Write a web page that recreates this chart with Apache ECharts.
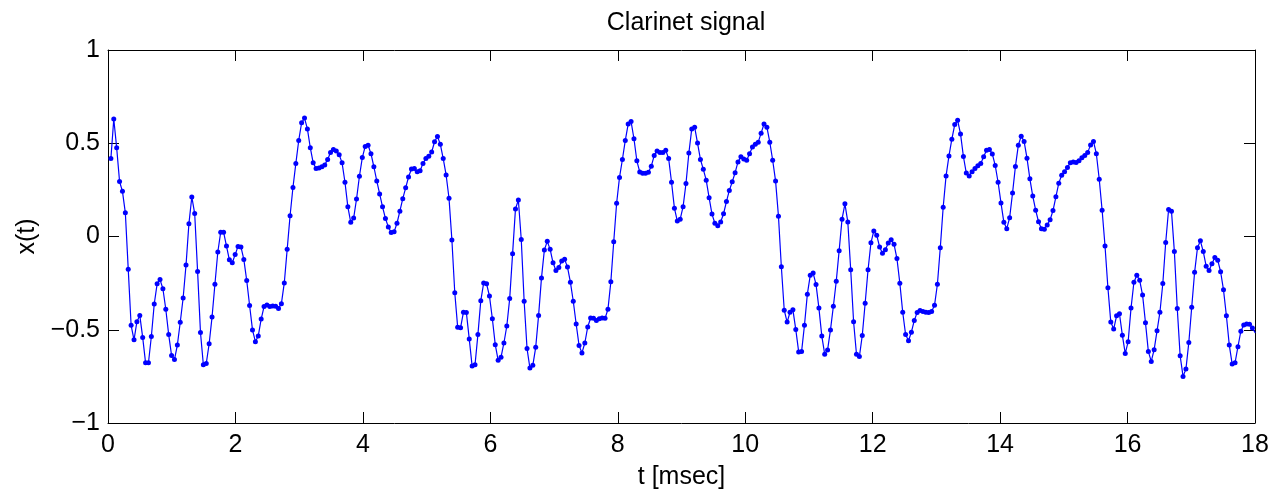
<!DOCTYPE html>
<html>
<head>
<meta charset="utf-8">
<script src="https://cdn.jsdelivr.net/npm/echarts@6/dist/echarts.min.js"></script>
<style>html,body{margin:0;padding:0;background:#fff}#c{width:1275px;height:495px}</style>
</head>
<body>
<div id="c"></div>
<script>
// sampling rate in kHz (samples per msec); sample k lies at t = (k+1)/SAMPLE_RATE_KHZ
const SAMPLE_RATE_KHZ = 22.05;
const xTicks = [0, 2, 4, 6, 8, 10, 12, 14, 16, 18];
const yTicks = [-1, -0.5, 0, 0.5, 1];
const signal = [
 0.418, 0.630, 0.476, 0.295, 0.242, 0.127, -0.175, -0.476, -0.554, -0.457,
 -0.423, -0.541, -0.677, -0.677, -0.536, -0.362, -0.254, -0.231, -0.280, -0.390,
 -0.526, -0.638, -0.660, -0.582, -0.460, -0.330, -0.153, 0.069, 0.212, 0.123,
 -0.187, -0.515, -0.688, -0.681, -0.575, -0.432, -0.256, -0.083, 0.023, 0.023,
 -0.051, -0.125, -0.141, -0.097,
 -0.053, -0.056, -0.123, -0.236, -0.370, -0.501, -0.564, -0.533, -0.443, -0.376,
 -0.367, -0.376, -0.372, -0.374, -0.386, -0.360, -0.249, -0.069, 0.111, 0.263,
 0.392, 0.515, 0.610, 0.635, 0.577, 0.476, 0.395, 0.365, 0.367, 0.374,
 0.384, 0.413, 0.450, 0.467, 0.459, 0.439, 0.395, 0.291, 0.159, 0.076,
 0.099, 0.201, 0.323, 0.423,
 0.483, 0.489, 0.444, 0.374, 0.298, 0.228, 0.159, 0.097, 0.051, 0.021,
 0.025, 0.071, 0.136, 0.203, 0.261, 0.319, 0.362, 0.365, 0.347, 0.353,
 0.392, 0.418, 0.430, 0.453, 0.508, 0.536, 0.494, 0.418, 0.330, 0.205,
 -0.019, -0.302, -0.487, -0.489, -0.406, -0.407, -0.549, -0.695, -0.688, -0.526,
 -0.344, -0.249, -0.254, -0.319,
 -0.441, -0.580, -0.663, -0.647, -0.571, -0.480, -0.333, -0.092, 0.148, 0.196,
 -0.016, -0.347, -0.601, -0.705, -0.691, -0.594, -0.423, -0.222, -0.072, -0.026,
 -0.069, -0.141, -0.182, -0.166, -0.132, -0.122, -0.164, -0.245, -0.347, -0.469,
 -0.584, -0.624, -0.571, -0.485, -0.437, -0.439, -0.450, -0.441, -0.437, -0.439,
 -0.390, -0.243, -0.028, 0.178, 0.317,
 0.413, 0.515, 0.603, 0.616, 0.524, 0.406, 0.346, 0.339, 0.339, 0.344,
 0.377, 0.434, 0.459, 0.450, 0.450, 0.462, 0.418, 0.291, 0.152, 0.083,
 0.093, 0.160, 0.284, 0.448, 0.577, 0.586, 0.501, 0.413, 0.360, 0.302,
 0.208, 0.120, 0.071, 0.058, 0.078, 0.122, 0.187, 0.247, 0.293, 0.342,
 0.400, 0.427, 0.416, 0.409,
 0.444, 0.480, 0.494, 0.506, 0.554, 0.603, 0.586, 0.506, 0.409, 0.298,
 0.109, -0.162, -0.395, -0.459, -0.406, -0.393, -0.499, -0.619, -0.617, -0.476,
 -0.309, -0.208, -0.196, -0.257, -0.384, -0.534, -0.631, -0.608, -0.501, -0.374,
 -0.240, -0.076, 0.093, 0.175, 0.078, -0.178, -0.457, -0.631, -0.644, -0.531,
 -0.358, -0.178, -0.034, 0.030,
 0.007, -0.056, -0.090, -0.071, -0.035, -0.018, -0.042, -0.118, -0.250, -0.406,
 -0.526, -0.559, -0.513, -0.450, -0.407, -0.397, -0.402, -0.406, -0.407, -0.402,
 -0.369, -0.256, -0.060, 0.157, 0.325, 0.432, 0.522, 0.600, 0.623, 0.550,
 0.429, 0.340, 0.325, 0.347, 0.365, 0.379, 0.392, 0.427, 0.462, 0.467,
 0.443, 0.381, 0.291, 0.180,
 0.076, 0.042, 0.101, 0.233, 0.376, 0.489, 0.538, 0.510, 0.420, 0.309,
 0.217, 0.141, 0.079, 0.041, 0.039, 0.062, 0.090, 0.139, 0.213, 0.286,
 0.328, 0.347, 0.370, 0.395, 0.399, 0.397, 0.406, 0.422, 0.434, 0.451,
 0.490, 0.510, 0.444, 0.307, 0.141, -0.051, -0.275, -0.459, -0.496, -0.425,
 -0.414, -0.529, -0.628, -0.564, -0.384,
 -0.245, -0.208, -0.235, -0.314, -0.462, -0.617, -0.670, -0.607, -0.506, -0.406,
 -0.252, -0.032, 0.145, 0.136, -0.081, -0.386, -0.640, -0.750, -0.711, -0.568,
 -0.379, -0.192, -0.060, -0.023, -0.081, -0.159, -0.182, -0.146, -0.113, -0.127,
 -0.189, -0.286, -0.425, -0.582, -0.684, -0.677, -0.591, -0.508, -0.474, -0.469,
 -0.471, -0.490, -0.517
];

const points = signal.map((v, k) => [(k + 1) / SAMPLE_RATE_KHZ, v]);
const FONT = 'Liberation Sans, Arial, Helvetica, sans-serif';
const FS = 25;
const fmt = v => String(v).replace('-', '\u2212');
const xInterval = xTicks[1] - xTicks[0];
const yInterval = yTicks[1] - yTicks[0];

const baseAxis = {
  axisLine: { show: true, onZero: false, lineStyle: { color: '#000', width: 1 } },
  axisTick: { show: true, inside: true, length: 11, lineStyle: { color: '#000', width: 1 } },
  splitLine: { show: false }
};

const chart = echarts.init(document.getElementById('c'), null, { renderer: 'canvas' });
chart.setOption({
  animation: false,
  backgroundColor: '#fff',
  title: {
    text: 'Clarinet signal',
    left: 681, top: 6, textAlign: 'center',
    textStyle: { fontFamily: FONT, fontSize: FS, fontWeight: 'normal', color: '#000' }
  },
  grid: { left: 108, right: 20, top: 50, bottom: 67, containLabel: false },
  xAxis: [
    Object.assign({}, baseAxis, {
      type: 'value', position: 'bottom', min: xTicks[0], max: xTicks[xTicks.length - 1], interval: xInterval,
      name: 't [msec]', nameLocation: 'middle', nameGap: 42,
      nameTextStyle: { fontFamily: FONT, fontSize: FS, color: '#000' },
      axisLabel: { fontFamily: FONT, fontSize: FS, color: '#000', margin: 10, formatter: fmt }
    }),
    Object.assign({}, baseAxis, {
      type: 'value', position: 'top', min: xTicks[0], max: xTicks[xTicks.length - 1], interval: xInterval,
      axisLabel: { show: false }
    })
  ],
  yAxis: [
    Object.assign({}, baseAxis, {
      type: 'value', position: 'left', min: yTicks[0], max: yTicks[yTicks.length - 1], interval: yInterval,
      name: 'x(t)', nameLocation: 'middle', nameGap: 67, nameRotate: 90,
      nameTextStyle: { fontFamily: FONT, fontSize: FS, color: '#000' },
      axisLabel: { fontFamily: FONT, fontSize: FS, color: '#000', margin: 8, formatter: fmt }
    }),
    Object.assign({}, baseAxis, {
      type: 'value', position: 'right', min: yTicks[0], max: yTicks[yTicks.length - 1], interval: yInterval,
      axisLabel: { show: false }
    })
  ],
  series: [{
    type: 'line',
    xAxisIndex: 0, yAxisIndex: 0,
    data: points,
    clip: true,
    symbol: 'circle',
    symbolSize: 5,
    showAllSymbol: true,
    lineStyle: { color: '#0000ff', width: 1.2 },
    itemStyle: { color: '#0000ff', borderWidth: 0 },
    emphasis: { disabled: true }
  }]
});
</script>
</body>
</html>
